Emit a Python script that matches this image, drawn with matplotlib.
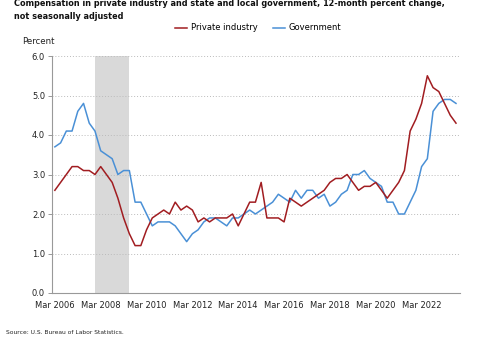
import numpy as np
import matplotlib
matplotlib.use('agg')
import matplotlib.pyplot as plt

# Quarterly data, Mar 2006 .. Sep 2023 (12-month percent change)
quarters = [f"{m} {y}" for y in range(2006, 2024) for m in ("Mar", "Jun", "Sep", "Dec")][:71]

private = [2.6, 2.8, 3.0, 3.2, 3.2, 3.1, 3.1, 3.0, 3.2, 3.0,
           2.8, 2.4, 1.9, 1.5, 1.2, 1.2, 1.6, 1.9, 2.0, 2.1,
           2.0, 2.3, 2.1, 2.2, 2.1, 1.8, 1.9, 1.8, 1.9, 1.9,
           1.9, 2.0, 1.7, 2.0, 2.3, 2.3, 2.8, 1.9, 1.9, 1.9,
           1.8, 2.4, 2.3, 2.2, 2.3, 2.4, 2.5, 2.6, 2.8, 2.9,
           2.9, 3.0, 2.8, 2.6, 2.7, 2.7, 2.8, 2.6, 2.4, 2.6,
           2.8, 3.1, 4.1, 4.4, 4.8, 5.5, 5.2, 5.1, 4.8, 4.5,
           4.3]

government = [3.7, 3.8, 4.1, 4.1, 4.6, 4.8, 4.3, 4.1, 3.6, 3.5,
              3.4, 3.0, 3.1, 3.1, 2.3, 2.3, 2.0, 1.7, 1.8, 1.8,
              1.8, 1.7, 1.5, 1.3, 1.5, 1.6, 1.8, 1.9, 1.9, 1.8,
              1.7, 1.9, 1.9, 2.0, 2.1, 2.0, 2.1, 2.2, 2.3, 2.5,
              2.4, 2.3, 2.6, 2.4, 2.6, 2.6, 2.4, 2.5, 2.2, 2.3,
              2.5, 2.6, 3.0, 3.0, 3.1, 2.9, 2.8, 2.7, 2.3, 2.3,
              2.0, 2.0, 2.3, 2.6, 3.2, 3.4, 4.6, 4.8, 4.9, 4.9,
              4.8]

recession = ("Dec 2007", "Jun 2009")
xtick_labels = ["Mar 2006", "Mar 2008", "Mar 2010", "Mar 2012", "Mar 2014",
                "Mar 2016", "Mar 2018", "Mar 2020", "Mar 2022"]
ytick_values = [0.0, 1.0, 2.0, 3.0, 4.0, 5.0, 6.0]

RED = '#a11d21'
BLUE = '#4a90d6'
GRAY_TEXT = '#222222'

x = np.arange(len(quarters))

fig = plt.figure(figsize=(4.88, 3.63), dpi=100)
ax = fig.add_axes([52 / 488, 70 / 363, 408 / 488, 237 / 363])

# recession shading
r0, r1 = quarters.index(recession[0]), quarters.index(recession[1])
ax.axvspan(r0, r1, color='#d9d9d9', lw=0, zorder=0)

ax.plot(x, private, color=RED, lw=1.1, label="Private industry", zorder=3)
ax.plot(x, government, color=BLUE, lw=1.1, label="Government", zorder=2)

ax.set_xlim(-0.5, 70.7)
ax.set_ylim(0, 6)

ax.set_yticks(ytick_values)
ax.set_yticklabels([f"{v:.1f}" for v in ytick_values])
ax.set_xticks([quarters.index(l) for l in xtick_labels])
ax.set_xticklabels(xtick_labels)

ax.tick_params(axis='y', length=3, width=0.6, color='#888888', labelsize=6, pad=2,
               labelcolor=GRAY_TEXT)
ax.tick_params(axis='x', length=0, labelsize=6, pad=6, labelcolor=GRAY_TEXT)

ax.yaxis.grid(True, linestyle=(0, (1, 2)), color='#bbbbbb', lw=0.7)
ax.set_axisbelow(True)
for s in ("top", "right"):
    ax.spines[s].set_visible(False)
for s in ("left", "bottom"):
    ax.spines[s].set_color('#999999')
    ax.spines[s].set_linewidth(0.8)

fig.text(14 / 488, 1 - 10 / 363,
         "Compensation in private industry and state and local government, 12-month percent change,\n"
         "not seasonally adjusted",
         fontsize=5.85, fontweight='bold', va='center', ha='left', linespacing=1.45,
         color='#111111')
fig.text(22 / 488, 1 - 42 / 363, "Percent", fontsize=6.2, va='center', ha='left',
         color=GRAY_TEXT)

fig.legend(loc='center', bbox_to_anchor=(258 / 488, 1 - 28 / 363), ncol=2, frameon=False,
           fontsize=6.0, handlelength=1.5, handletextpad=0.4, columnspacing=1.8)

fig.text(6 / 488, 1 - 333 / 363, "Source: U.S. Bureau of Labor Statistics.",
         fontsize=4.3, va='center', ha='left', color=GRAY_TEXT)

fig.savefig("out.png", dpi=100)
